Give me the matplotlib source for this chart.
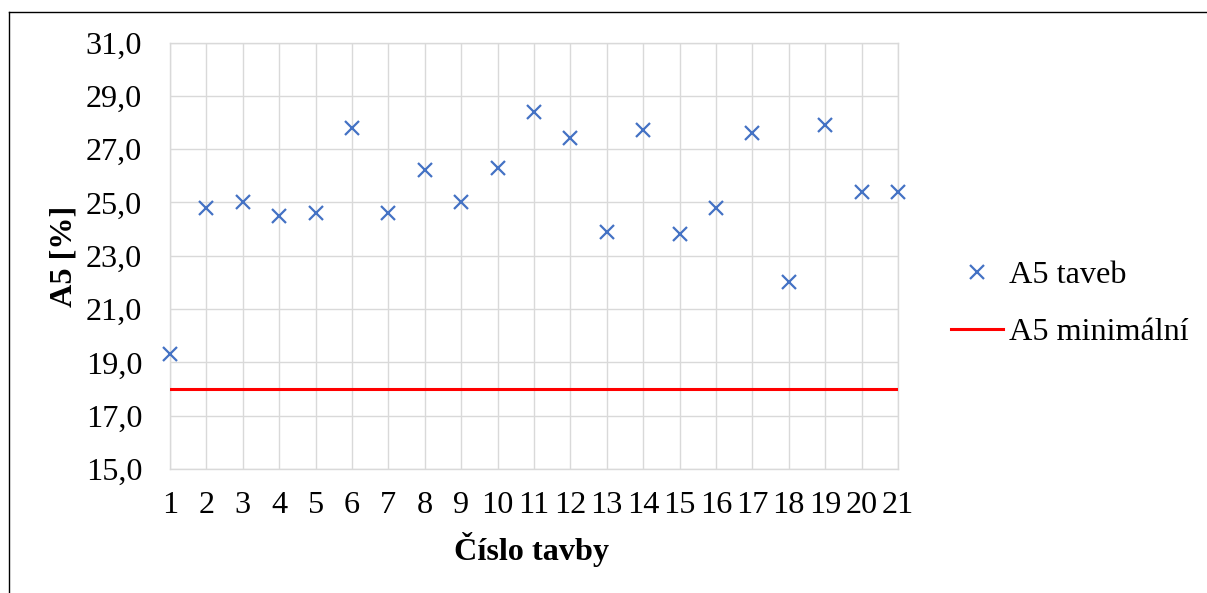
#!/usr/bin/env python3
"""
A5 tavby - bodovy graf s minimalni hodnotou.
"""
import matplotlib
matplotlib.use('Agg')
import matplotlib.pyplot as plt
from matplotlib.lines import Line2D

# ─── Data ─────────────────────────────────────────────
tavby = list(range(1, 22))
a5_taveb = [19.3, 24.8, 25.0, 24.5, 24.6, 27.8, 24.6, 26.2, 25.0, 26.3, 28.4,
            27.4, 23.9, 27.7, 23.8, 24.8, 27.6, 22.0, 27.9, 25.4, 25.4]
a5_min = [18.0, 18.0, 18.0, 18.0, 18.0, 18.0, 18.0, 18.0, 18.0, 18.0, 18.0,
          18.0, 18.0, 18.0, 18.0, 18.0, 18.0, 18.0, 18.0, 18.0, 18.0]
y_ticks = [15.0, 17.0, 19.0, 21.0, 23.0, 25.0, 27.0, 29.0, 31.0]

W, H = 1207, 593
FS = 23.2
GRID = '#d9d9d9'

plt.rcParams['font.family'] = ['Liberation Serif', 'DejaVu Serif']

fig = plt.figure(figsize=(W / 100, H / 100), dpi=100)
ax = fig.add_axes([170 / W, 1 - 469 / H, 728 / W, 426.5 / H])

ax.plot(tavby, a5_min, color='#ff0000', linewidth=2.2, label='A5 minimální',
        zorder=3)
ax.plot(tavby, a5_taveb, linestyle='none', marker='x', markersize=9.5,
        markeredgewidth=1.6, color='#4472c4', label='A5 taveb', zorder=4,
        clip_on=False)

ax.set_xlim(1, 21)
ax.set_ylim(15, 31)
ax.set_xticks(tavby)
ax.set_yticks(y_ticks)
ax.set_yticklabels([f'{v:.1f}'.replace('.', ',') for v in y_ticks])
ax.grid(True, color=GRID, linewidth=1.0)
ax.set_axisbelow(True)
for s in ax.spines.values():
    s.set_color(GRID)
    s.set_linewidth(1.0)
ax.tick_params(axis='both', length=0, labelsize=FS, colors='black')
ax.tick_params(axis='x', pad=16)
ax.tick_params(axis='y', pad=20)

# Popisky os
fig.text(71 / W, 1 - 256 / H, 'A5 [%]', rotation=90, rotation_mode='anchor',
         ha='center', va='baseline', fontsize=FS, fontweight='bold')
fig.text(532 / W, 1 - 560 / H, 'Číslo tavby', ha='center', va='baseline',
         fontsize=FS, fontweight='bold')

# Legenda
handles = [
    Line2D([], [], linestyle='none', marker='x', markersize=9.5,
           markeredgewidth=1.6, color='#4472c4'),
    Line2D([], [], color='#ff0000', linewidth=2.2),
]
fig.legend(handles, ['A5 taveb', 'A5 minimální'], loc='center left',
           bbox_to_anchor=(951 / W, 1 - 304 / H), frameon=False,
           fontsize=FS, borderpad=0, borderaxespad=0, handlelength=1.6,
           handletextpad=0.2, labelspacing=0.85)

# Ramecek grafu (jen levy a horni okraj)
fig.add_artist(Line2D([8.5 / W, 8.5 / W], [0, 1 - 11.5 / H], color='black',
                      linewidth=1.0, transform=fig.transFigure))
fig.add_artist(Line2D([8.5 / W, 1], [1 - 11.5 / H, 1 - 11.5 / H],
                      color='black', linewidth=1.0, transform=fig.transFigure))

fig.savefig('out.png', dpi=100, facecolor='white')
